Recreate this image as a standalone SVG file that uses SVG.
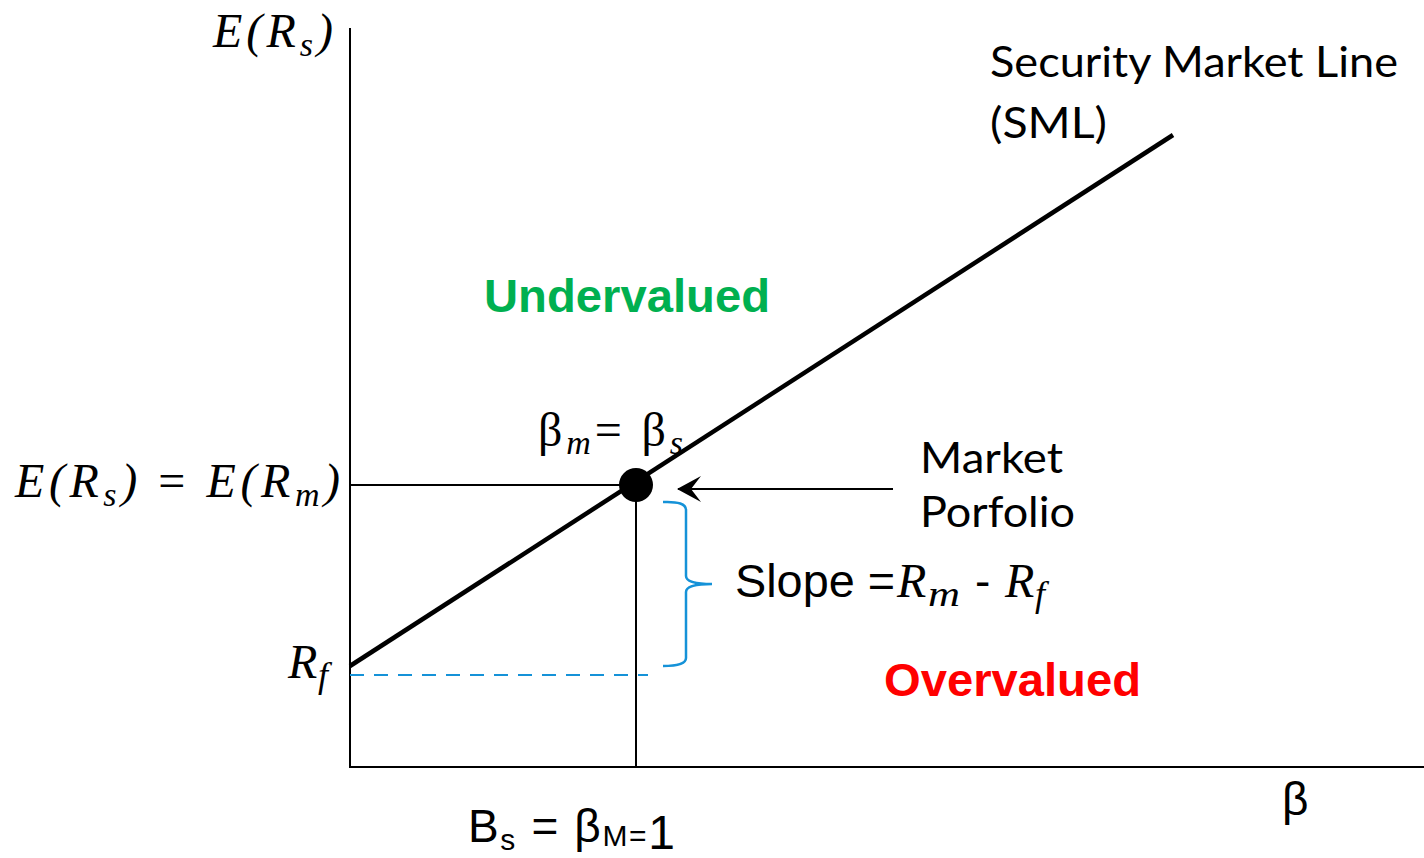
<svg xmlns="http://www.w3.org/2000/svg" width="1424" height="858" viewBox="0 0 1424 858">
<style>
.m{font-family:"Liberation Serif","DejaVu Serif",serif;font-style:italic;font-size:48px;fill:#000}
.ms{font-family:"Liberation Serif","DejaVu Serif",serif;font-style:italic;font-size:36px;fill:#000}
.mu{font-family:"Liberation Serif","DejaVu Serif",serif;font-style:normal;font-size:48px;fill:#000}
.c{font-family:Lato,"Open Sans",sans-serif;font-size:43px;fill:#000}
.a{font-family:"Liberation Sans",Arial,sans-serif;font-size:46px;fill:#000}
.b{font-family:"Liberation Sans",Arial,sans-serif;font-weight:bold;font-size:46px}
.ax{stroke:#000;stroke-width:2;fill:none}
</style>
<defs>
<marker id="ah" markerWidth="24" markerHeight="26" refX="23" refY="13" orient="auto" markerUnits="userSpaceOnUse" viewBox="0 0 24 26">
<path d="M0,0 L24,13 L0,26 L10,13 Z" fill="#000"/>
</marker>
</defs>
<g id="connectors">
<line class="ax" x1="350" y1="28" x2="350" y2="768"/>
<line class="ax" x1="349" y1="767" x2="1424" y2="767"/>
<line class="ax" x1="350" y1="485" x2="636" y2="485"/>
<line class="ax" x1="636" y1="485" x2="636" y2="767"/>
<line x1="350" y1="666" x2="1173" y2="135" stroke="#000" stroke-width="4.5"/>
<line x1="350" y1="675" x2="648" y2="675" stroke="#1592D8" stroke-width="2" stroke-dasharray="14,10"/>
<path d="M663,502 Q686,501 686,510 L686,576 Q686,584 712,584 Q686,584 686,592 L686,658 Q686,666 663,666" fill="none" stroke="#1592D8" stroke-width="2.5"/>
<line x1="893" y1="489" x2="678" y2="489" stroke="#000" stroke-width="2" marker-end="url(#ah)"/>
</g>
<g id="market-point"><circle cx="636" cy="485" r="17" fill="#000"/></g>
<g id="y-axis-label"><text class="m" x="213" y="47" textLength="120" lengthAdjust="spacing">E(R<tspan font-size="34" dy="9">s</tspan><tspan dy="-9">)</tspan></text></g>
<g id="eq-label"><text class="m" x="15" y="497" textLength="325" lengthAdjust="spacing">E(R<tspan font-size="34" dy="9">s</tspan><tspan dy="-9">) </tspan><tspan font-style="normal">=</tspan> E(R<tspan font-size="34" dy="9">m</tspan><tspan dy="-9">)</tspan></text></g>
<g id="beta-eq"><text class="mu" x="538" y="446" textLength="145" lengthAdjust="spacing">β<tspan font-style="italic" font-size="34" dy="8">m</tspan><tspan dy="-8">= β</tspan><tspan font-style="italic" font-size="34" dy="8">s</tspan></text></g>
<g id="sml-label"><text class="c" x="990" y="77" textLength="408" lengthAdjust="spacingAndGlyphs">Security Market Line</text><text class="c" x="990" y="138" textLength="117" lengthAdjust="spacingAndGlyphs">(SML)</text></g>
<g id="market-portfolio"><text class="c" x="920" y="473" textLength="143" lengthAdjust="spacingAndGlyphs">Market</text><text class="c" x="920" y="527" textLength="155" lengthAdjust="spacingAndGlyphs">Porfolio</text></g>
<g id="undervalued"><text class="b" x="484" y="312" fill="#00B050" textLength="286" lengthAdjust="spacingAndGlyphs">Undervalued</text></g>
<g id="overvalued"><text class="b" x="884" y="696" fill="#FF0000" textLength="257" lengthAdjust="spacingAndGlyphs">Overvalued</text></g>
<g id="slope">
<text class="a" x="735" y="597" textLength="160" lengthAdjust="spacingAndGlyphs">Slope =</text>
<text class="m" x="897" y="597">R</text>
<text class="ms" x="928" y="606" textLength="32" lengthAdjust="spacingAndGlyphs">m</text>
<text class="a" x="975" y="597">-</text>
<text class="m" x="1005" y="597">R</text>
<text class="ms" x="1035" y="606">f</text>
</g>
<g id="rf"><text class="m" x="288" y="678">R</text><text class="ms" x="318" y="687">f</text></g>
<g id="x-label"><text class="a" x="468" y="842" textLength="207" lengthAdjust="spacing">B<tspan font-size="30" dy="8">s</tspan><tspan dy="-8"> = β</tspan><tspan font-size="30" dy="4">M=</tspan><tspan font-size="48" dy="3">1</tspan></text></g>
<g id="x-axis-label"><text class="a" x="1282" y="815">β</text></g>
</svg>
